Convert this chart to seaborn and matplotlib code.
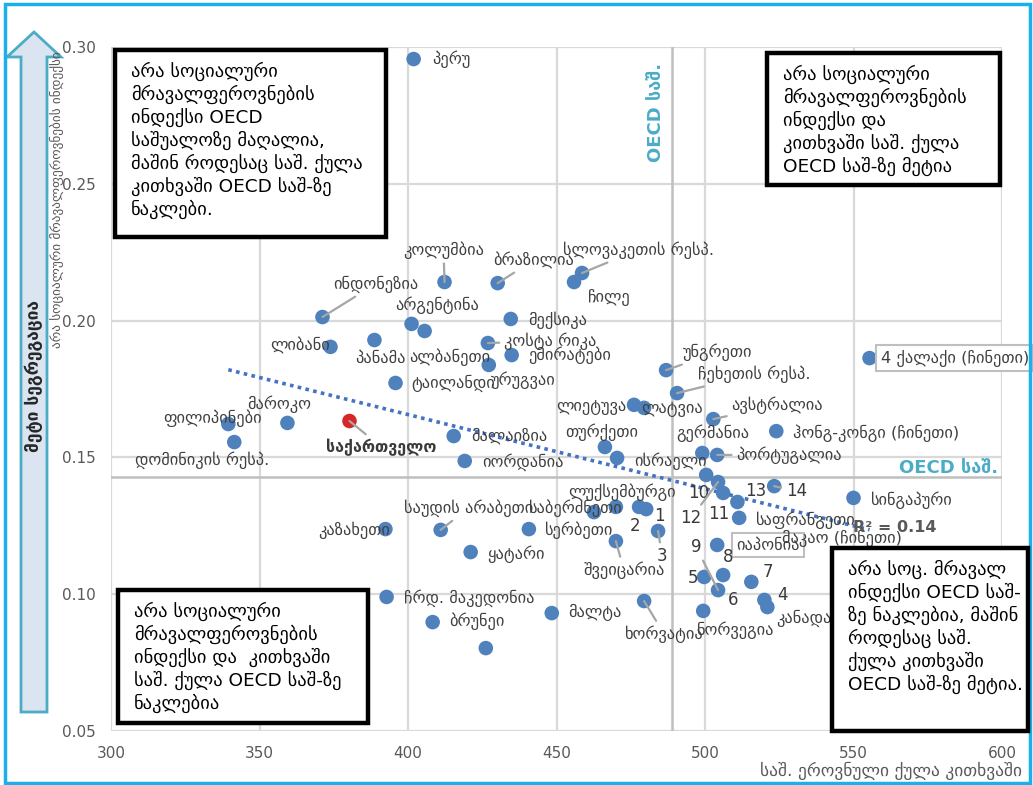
import numpy as np
import pandas as pd
import matplotlib
matplotlib.use("Agg")
import matplotlib.pyplot as plt
import seaborn as sns
from matplotlib.patches import Rectangle, Polygon

# --- data ---
countries = [
    "პერუ", "კოლუმბია", "ბრაზილია", "სლოვაკეთის რესპ.", "ჩილე",
    "ინდონეზია", "არგენტინა", "ალბანეთი", "მექსიკა", "ლიბანი",
    "პანამა", "კოსტა რიკა", "ემირატები", "ურუგვაი", "ტაილანდი",
    "უნგრეთი", "ჩეხეთის რესპ.", "ლიეტუვა", "ლატვია", "ავსტრალია",
    "ჰონგ-კონგი (ჩინეთი)", "4 ქალაქი (ჩინეთი)", "თურქეთი", "ისრაელი", "გერმანია",
    "პორტუგალია", "მალაიზია", "იორდანია", "ფილიპინები", "დომინიკის რესპ.",
    "მაროკო", "საქართველო", "10", "12", "11",
    "13", "საფრანგეთი", "14", "სინგაპური", "საბერძნეთი",
    "ლუქსემბურგი", "", "2", "კაზახეთი", "საუდის არაბეთი",
    "სერბეთი", "ყატარი", "შვეიცარია", "1", "ჩრდ. მაკედონია",
    "ბრუნეი", "", "მალტა", "ხორვატია", "ნორვეგია",
    "იაპონია", "5", "8", "6", "7",
    "4", "კანადა",
]
reading = [
    401.9, 412.3, 430.2, 458.6, 455.9,
    371.2, 401.2, 405.6, 434.6, 373.9,
    388.7, 426.9, 434.9, 427.2, 395.8,
    486.9, 490.6, 476.1, 479.5, 502.8,
    524.0, 555.4, 466.3, 470.4, 499.1,
    504.1, 415.4, 419.1, 339.5, 341.5,
    359.4, 380.3, 500.4, 504.4, 506.1,
    510.9, 511.5, 523.3, 550.0, 462.6,
    470.0, 477.8, 480.2, 392.4, 411.0,
    440.7, 421.1, 470.0, 484.2, 392.8,
    408.3, 426.2, 448.4, 479.5, 499.4,
    504.1, 499.7, 506.1, 504.4, 515.6,
    520.0, 521.0,
]
index_vals = [
    0.2956, 0.2141, 0.2137, 0.2174, 0.2141,
    0.2013, 0.1988, 0.1962, 0.2006, 0.1904,
    0.1929, 0.1918, 0.1874, 0.1838, 0.1772,
    0.1819, 0.1735, 0.1692, 0.1681, 0.1640,
    0.1596, 0.1863, 0.1538, 0.1498, 0.1516,
    0.1509, 0.1578, 0.1487, 0.1622, 0.1556,
    0.1626, 0.1633, 0.1436, 0.1410, 0.1370,
    0.1337, 0.1279, 0.1395, 0.1352, 0.1300,
    0.1319, 0.1319, 0.1311, 0.1238, 0.1235,
    0.1238, 0.1154, 0.1194, 0.1231, 0.0990,
    0.0898, 0.0803, 0.0931, 0.0975, 0.0939,
    0.1180, 0.1063, 0.1070, 0.1015, 0.1045,
    0.0979, 0.0953,
]
# extra labels hung on an already labelled point: (text, point label)
extra_labels = [("3", "1"), ("9", "6"), ("მაკაო (ჩინეთი)", "13")]

highlight = "საქართველო"
oecd_reading = 489
oecd_index = 0.143
r2_text = "R² = 0.14"
xticks = [300, 350, 400, 450, 500, 550, 600]
yticks = [0.05, 0.10, 0.15, 0.20, 0.25, 0.30]

xlabel = "საშ. ეროვნული ქულა კითხვაში"
ylabel = "არა სოციალური მრავალფეროვნების ინდექსი"
arrow_text = "მეტი სეგრეგაცია"
oecd_text = "OECD საშ."

box_texts = [
    "არა სოციალური\nმრავალფეროვნების\nინდექსი OECD\nსაშუალოზე მაღალია,\nმაშინ როდესაც საშ. ქულა\nკითხვაში OECD საშ-ზე\nნაკლები.",
    "არა სოციალური\nმრავალფეროვნების\nინდექსი და\nკითხვაში საშ. ქულა\nOECD საშ-ზე მეტია",
    "არა სოციალური\nმრავალფეროვნების\nინდექსი და  კითხვაში\nსაშ. ქულა OECD საშ-ზე\nნაკლებია",
    "არა სოც. მრავალ\nინდექსი OECD საშ-\nზე ნაკლებია, მაშინ\nროდესაც საშ.\nქულა კითხვაში\nOECD საშ-ზე მეტია.",
]

# label placement in pixels from the point: dx (right), dy (down), align, leader line
label_pos = {
    "პერუ": (19, 0, "left", False),
    "კოლუმბია": (-1, -32, "center", True),
    "ბრაზილია": (36, -23, "center", True),
    "სლოვაკეთის რესპ.": (56, -23, "center", True),
    "ჩილე": (35, 15, "center", False),
    "ინდონეზია": (53, -33, "center", True),
    "არგენტინა": (26, -19, "center", False),
    "ალბანეთი": (25, 26, "center", False),
    "მექსიკა": (17, 1, "left", False),
    "ლიბანი": (-1, -2, "right", False),
    "პანამა": (6, 18, "center", False),
    "კოსტა რიკა": (16, -2, "left", True),
    "ემირატები": (17, 0, "left", False),
    "ურუგვაი": (2, 15, "left", False),
    "ტაილანდი": (16, 0, "left", False),
    "უნგრეთი": (17, -18, "left", True),
    "ჩეხეთის რესპ.": (21, -19, "left", True),
    "ლიეტუვა": (-8, 3, "right", False),
    "ლატვია": (-3, 2, "left", False),
    "ავსტრალია": (18, -14, "left", True),
    "ჰონგ-კონგი (ჩინეთი)": (17, 2, "left", False),
    "4 ქალაქი (ჩინეთი)": (11, 0, "left", False),
    "თურქეთი": (-3, -15, "center", False),
    "ისრაელი": (17, 3, "left", False),
    "გერმანია": (11, -20, "center", False),
    "პორტუგალია": (19, 0, "left", True),
    "მალაიზია": (17, 0, "left", False),
    "იორდანია": (17, 1, "left", False),
    "ფილიპინები": (-16, -6, "center", False),
    "დომინიკის რესპ.": (-32, 18, "center", False),
    "მაროკო": (-8, -19, "center", False),
    "საქართველო": (32, 26, "center", True),
    "10": (-8, 18, "center", False),
    "12": (-27, 36, "center", True),
    "11": (-4, 21, "center", False),
    "13": (18, -11, "center", False),
    "საფრანგეთი": (17, 2, "left", False),
    "14": (22, 5, "center", True),
    "სინგაპური": (17, 2, "left", False),
    "საბერძნეთი": (-18, -4, "center", False),
    "ლუქსემბურგი": (6, -15, "center", False),
    "2": (-11, 17, "center", False),
    "კაზახეთი": (5, 1, "right", False),
    "საუდის არაბეთი": (28, -22, "center", True),
    "სერბეთი": (16, 1, "left", False),
    "ყატარი": (17, 2, "left", False),
    "შვეიცარია": (8, 29, "center", True),
    "1": (1, -15, "center", False),
    "3": (4, 25, "center", True),
    "ჩრდ. მაკედონია": (17, 1, "left", False),
    "ბრუნეი": (17, -1, "left", False),
    "მალტა": (16, -1, "left", False),
    "ხორვატია": (20, 33, "center", True),
    "ნორვეგია": (33, 19, "center", False),
    "იაპონია": (19, 0, "left", False),
    "5": (-11, 1, "center", False),
    "8": (5, -18, "center", False),
    "6": (15, 10, "center", False),
    "9": (-22, -43, "center", True),
    "7": (17, -10, "center", False),
    "4": (18, -5, "center", False),
    "კანადა": (9, 11, "left", False),
    "მაკაო (ჩინეთი)": (105, 36, "center", False),
}
boxed = {"4 ქალაქი (ჩინეთი)", "იაპონია"}

df = pd.DataFrame({"country": countries, "reading": reading, "index": index_vals})
df["group"] = np.where(df["country"] == highlight, "geo", "other")

sns.set_theme(style="white")
plt.rcParams["font.family"] = ["DejaVu Sans"]

W, H = 1033, 785
fig = plt.figure(figsize=(W / 100, H / 100), dpi=100)


def fx(px):
    return px / W


def fy(py):
    return 1 - py / H


ax = fig.add_axes([fx(111), fy(731), (1002 - 111) / W, (731 - 47) / H])

grid_c = "#d9d9d9"
for v in xticks:
    ax.axvline(v, color=grid_c, lw=1.6, zorder=0)
for v in yticks:
    ax.axhline(v, color=grid_c, lw=1.6, zorder=0)
ax.axvline(oecd_reading, color="#bfbfbf", lw=1.8, zorder=0.5)
ax.axhline(oecd_index, color="#bfbfbf", lw=1.8, zorder=0.5)

sns.regplot(data=df, x="reading", y="index", scatter=False, ci=None, truncate=True,
            line_kws=dict(color="#4472c4", lw=2.6, ls=(0, (1, 1.2)), zorder=2), ax=ax)

sns.scatterplot(data=df, x="reading", y="index", hue="group",
                palette={"other": "#4f81bd", "geo": "#d62728"},
                s=110, edgecolor="none", legend=False, zorder=3, ax=ax)

ax.set_xlim(300, 600)
ax.set_ylim(0.05, 0.30)
ax.set_xticks(xticks)
ax.set_yticks(yticks)
ax.set_yticklabels([f"{v:.2f}" for v in yticks])
ax.tick_params(length=0, labelsize=11, labelcolor="#595959", pad=11)
ax.set_xlabel("")
ax.set_ylabel("")
for s in ax.spines.values():
    s.set_visible(False)

# point labels
pts = {c: (x, y) for c, x, y in zip(countries, reading, index_vals) if c}
all_labels = [(c, c) for c in countries if c] + extra_labels
for text, anchor in all_labels:
    dx, dy, ha, leader = label_pos[text]
    xy = pts[anchor]
    kw = dict(fontsize=11.8, color="#404040", ha=ha, va="center", zorder=4)
    if text.isdigit():
        kw.update(fontsize=12, color="#3a3a3a")
    if text == highlight:
        kw.update(fontweight="bold", color="#3a3a3a", fontsize=11.5)
    if text in boxed:
        kw["bbox"] = dict(boxstyle="square,pad=0.25", fc="white", ec="#bfbfbf", lw=1.5)
    if leader:
        kw["arrowprops"] = dict(arrowstyle="-", color="#a6a6a6", lw=1.6,
                                shrinkA=1, shrinkB=0)
    ax.annotate(text, xy=xy, xytext=(dx, -dy), textcoords="offset pixels", **kw)

fig.text(fx(895), fy(527), r2_text, fontsize=11.5, fontweight="bold",
         color="#595959", ha="center", va="center")

# OECD average captions
fig.text(fx(656), fy(112), oecd_text, rotation=90, fontsize=13, fontweight="bold",
         color="#4bacc6", ha="center", va="center")
fig.text(fx(998), fy(468), oecd_text, fontsize=13, fontweight="bold",
         color="#4bacc6", ha="right", va="center")

# axis titles
fig.text(fx(1022), fy(771), xlabel, fontsize=12.5, color="#595959", ha="right", va="center")
fig.text(fx(57), fy(51), ylabel, rotation=90, fontsize=9.5, color="#595959",
         ha="center", va="top")

# quadrant boxes: (left, top, right, bottom) in pixels
boxes = [(115, 50, 386, 237), (767, 53, 1000, 185), (118, 590, 368, 723), (832, 548, 1028, 731)]
for (l, t, r, b), txt in zip(boxes, box_texts):
    rect = ((fx(l), fy(b)), (r - l) / W, (b - t) / H)
    fig.patches.append(Rectangle(*rect, transform=fig.transFigure, fc="white",
                                 ec="none", zorder=4))
    fig.texts.append(plt.Text(fx(l + 16), fy(t + 12), txt, fontsize=13.3, color="black",
                              ha="left", va="top", linespacing=1.25, zorder=5,
                              transform=fig.transFigure, figure=fig))
    fig.patches.append(Rectangle(*rect, transform=fig.transFigure, fill=False,
                                 ec="black", lw=3.2, zorder=6))

# big arrow on the left
arrow_px = [(34, 32), (61, 57), (47, 57), (47, 712), (21, 712), (21, 57), (7, 57)]
fig.patches.append(Polygon([(fx(x), fy(y)) for x, y in arrow_px], closed=True,
                           transform=fig.transFigure, fc="#dbe5f1", ec="#4bacc6", lw=2))
fig.text(fx(34), fy(376), arrow_text, rotation=90, fontsize=12.5, fontweight="bold",
         color="#262626", ha="center", va="center")

# outer frame
fig.patches.append(Rectangle((fx(5), fy(783)), (1030 - 5) / W, (783 - 4) / H,
                             transform=fig.transFigure, fill=False, ec="#1cb0ea", lw=2.5))

fig.savefig("out.png", dpi=100)
